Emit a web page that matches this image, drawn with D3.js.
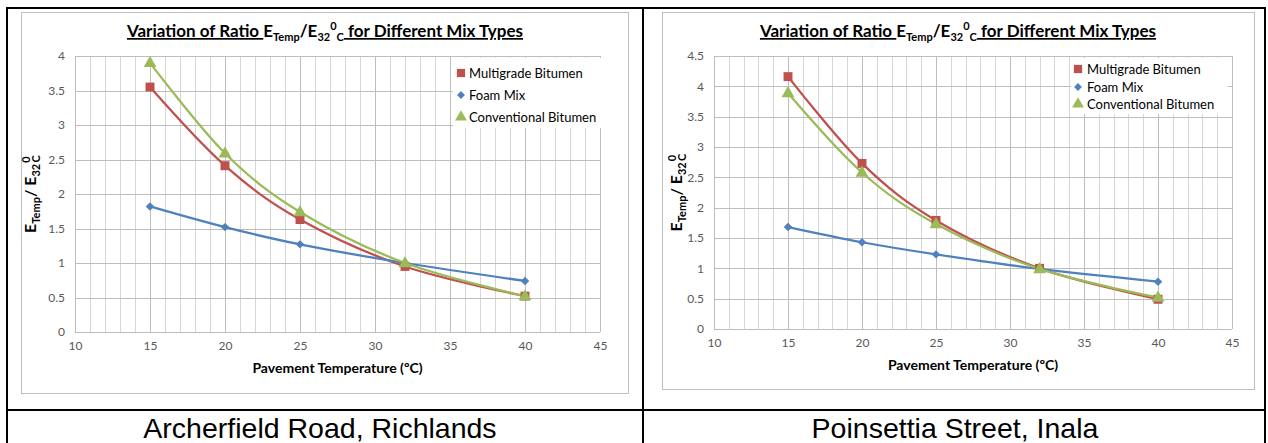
<!DOCTYPE html>
<html><head><meta charset="utf-8">
<script src="https://cdn.jsdelivr.net/npm/d3@7"></script>
<style>
html,body{margin:0;padding:0;background:#fff;}
svg{display:block;}
</style></head>
<body>
<svg id="c" width="1268" height="443"></svg>
<script>
// ---- data ----
const temps = [15, 20, 25, 32, 40];
const xTicks = [10, 15, 20, 25, 30, 35, 40, 45];
const yTicksLeft = [0, 0.5, 1, 1.5, 2, 2.5, 3, 3.5, 4];
const yTicksRight = [0, 0.5, 1, 1.5, 2, 2.5, 3, 3.5, 4, 4.5];
const seriesNames = ["Multigrade Bitumen", "Foam Mix", "Conventional Bitumen"];
const richMultigrade = [3.55, 2.41, 1.63, 0.95, 0.52];
const richFoam = [1.82, 1.52, 1.27, 1.00, 0.74];
const richConventional = [3.90, 2.59, 1.74, 1.00, 0.52];
const inalaMultigrade = [4.16, 2.73, 1.79, 1.00, 0.49];
const inalaFoam = [1.68, 1.43, 1.23, 0.99, 0.78];
const inalaConventional = [3.89, 2.58, 1.73, 0.99, 0.52];
const captions = ["Archerfield Road, Richlands", "Poinsettia Street, Inala"];

const colors = ["#C0504D", "#4F81BD", "#9BBB59"];
const shapes = [d3.symbolSquare, d3.symbolSquare, d3.symbolTriangle];
const rotations = [0, 45, 0];
const shapeSizes = [80, 36, 72];

const svg = d3.select("#c");
const FONT = "Lato, 'Open Sans', sans-serif";

const charts = [
  {frame:{x:21,y:12,w:607,h:381}, plot:{l:75,r:600,t:56,b:332}, yMax:4, yTicks:yTicksLeft,
   titleX:325, titleY:37, yTitleX:36, xTitleY:373,
   legend:{x:453,y:58,w:149,h:70,rows:[73,95,117],mx:461,tx:469,fs:13},
   series:[richMultigrade, richFoam, richConventional], caption:captions[0], capX:320},
  {frame:{x:662,y:12,w:592,h:377}, plot:{l:714,r:1232,t:56,b:329}, yMax:4.5, yTicks:yTicksRight,
   titleX:958, titleY:37, yTitleX:682, xTitleY:370,
   legend:{x:1071,y:58,w:157,h:56,rows:[69,87,104],mx:1078,tx:1087,fs:13},
   series:[inalaMultigrade, inalaFoam, inalaConventional], caption:captions[1], capX:955}
];

charts.forEach(ch => {
  const g = svg.append("g");
  g.append("rect").attr("x", ch.frame.x + 0.5).attr("y", ch.frame.y + 0.5)
    .attr("width", ch.frame.w).attr("height", ch.frame.h)
    .attr("fill", "#fff").attr("stroke", "#bfbfbf").attr("stroke-width", 1);

  const x = d3.scaleLinear().domain([10, 45]).range([ch.plot.l, ch.plot.r]);
  const y = d3.scaleLinear().domain([0, ch.yMax]).range([ch.plot.b, ch.plot.t]);

  const vg = d3.range(10, 46, 1);
  g.append("g").selectAll("line").data(vg).join("line")
    .attr("x1", d => Math.round(x(d)) + 0.5).attr("x2", d => Math.round(x(d)) + 0.5)
    .attr("y1", ch.plot.t).attr("y2", ch.plot.b)
    .attr("stroke", d => d % 5 === 0 ? "#bdbdbd" : "#d6d6d6").attr("stroke-width", 1);
  g.append("g").selectAll("line").data(ch.yTicks).join("line")
    .attr("x1", ch.plot.l).attr("x2", ch.plot.r)
    .attr("y1", d => Math.round(y(d)) + 0.5).attr("y2", d => Math.round(y(d)) + 0.5)
    .attr("stroke", "#bdbdbd").attr("stroke-width", 1);

  const xAxis = d3.axisBottom(x).tickValues(xTicks).tickSize(0).tickPadding(9).tickFormat(d3.format("d"));
  const xa = g.append("g").attr("transform", `translate(0,${ch.plot.b})`).call(xAxis);
  xa.select(".domain").remove();
  xa.selectAll("text").attr("font-family", FONT).attr("font-size", 12).attr("fill", "#595959");

  const yAxis = d3.axisLeft(y).tickValues(ch.yTicks).tickSize(0).tickPadding(10).tickFormat(d => String(d));
  const ya = g.append("g").attr("transform", `translate(${ch.plot.l},0)`).call(yAxis);
  ya.select(".domain").remove();
  ya.selectAll("text").attr("font-family", FONT).attr("font-size", 12).attr("fill", "#595959");

  // title
  const t = g.append("text").attr("x", ch.titleX).attr("y", ch.titleY)
    .attr("text-anchor", "middle").attr("font-family", FONT).attr("font-weight", "bold")
    .attr("font-size", 17).attr("fill", "#000");
  t.append("tspan").attr("text-decoration", "underline").text("Variation of Ratio ");
  t.append("tspan").text("E");
  t.append("tspan").attr("font-size", 11).attr("dy", 4).text("Temp");
  t.append("tspan").attr("dy", -4).text("/E");
  t.append("tspan").attr("font-size", 11).attr("dy", 4).text("32");
  t.append("tspan").attr("font-size", 11).attr("dy", -11).text("0");
  t.append("tspan").attr("font-size", 11).attr("dy", 11).text("C");
  t.append("tspan").attr("dy", -4).attr("text-decoration", "underline").text(" for Different Mix Types");

  g.append("text").attr("x", (ch.plot.l + ch.plot.r) / 2).attr("y", ch.xTitleY)
    .attr("text-anchor", "middle").attr("font-family", FONT).attr("font-weight", "bold")
    .attr("font-size", 14).attr("fill", "#000").text("Pavement Temperature (ºC)");

  // y title
  const yc = (ch.plot.t + ch.plot.b) / 2;
  const yt = g.append("text").attr("transform", `translate(${ch.yTitleX},${yc}) rotate(-90)`)
    .attr("text-anchor", "middle").attr("font-family", FONT).attr("font-weight", "bold")
    .attr("font-size", 16).attr("fill", "#000");
  yt.append("tspan").text("E");
  yt.append("tspan").attr("font-size", 11).attr("dy", 4).text("Temp");
  yt.append("tspan").attr("dy", -4).text("/ E");
  yt.append("tspan").attr("font-size", 11).attr("dy", 4).text("32");
  yt.append("tspan").attr("font-size", 11).attr("dy", -10).attr("dx", 1).text("0");
  yt.append("tspan").attr("font-size", 11).attr("dy", 10).attr("dx", -6).text("C");

  const line = d3.line().x((d, i) => x(temps[i])).y(d => y(d)).curve(d3.curveCardinal.tension(0));
  ch.series.forEach((s, k) => {
    g.append("path").datum(s).attr("d", line).attr("fill", "none")
      .attr("stroke", colors[k]).attr("stroke-width", 2.25);
  });
  ch.series.forEach((s, k) => {
    const sym = d3.symbol().type(shapes[k]).size(shapeSizes[k]);
    g.append("g").selectAll("path").data(s).join("path")
      .attr("transform", (d, i) => `translate(${x(temps[i])},${y(d) + (k === 2 ? 0.5 : 0)}) rotate(${rotations[k]})`)
      .attr("d", sym).attr("fill", colors[k]);
  });

  const L = ch.legend;
  g.append("rect").attr("x", L.x).attr("y", L.y).attr("width", L.w).attr("height", L.h).attr("fill", "#fff");
  seriesNames.forEach((n, k) => {
    const sym = d3.symbol().type(shapes[k]).size(shapeSizes[k] * 0.85);
    g.append("path").attr("transform", `translate(${L.mx},${L.rows[k]}) rotate(${rotations[k]})`).attr("d", sym).attr("fill", colors[k]);
    g.append("text").attr("x", L.tx).attr("y", L.rows[k] + 4.5).attr("font-family", FONT)
      .attr("font-size", L.fs).attr("fill", "#000").text(n);
  });

  svg.append("text").attr("x", ch.capX).attr("y", 438).attr("text-anchor", "middle")
    .attr("font-family", "'Liberation Sans', Arial, sans-serif").attr("font-size", 28.5)
    .attr("fill", "#000").text(ch.caption);
});

const bl = svg.append("g").attr("stroke", "#000").attr("stroke-width", 2);
bl.append("line").attr("x1", 6).attr("x2", 1266).attr("y1", 8).attr("y2", 8);
bl.append("line").attr("x1", 6).attr("x2", 1266).attr("y1", 410).attr("y2", 410);
[7, 643, 1265].forEach(xv => bl.append("line").attr("x1", xv).attr("x2", xv).attr("y1", 7).attr("y2", 443));
</script>
</body></html>
